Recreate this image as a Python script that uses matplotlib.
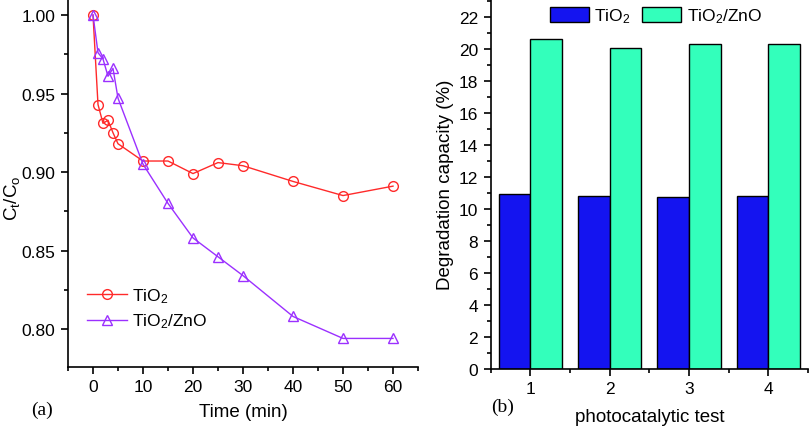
import matplotlib
matplotlib.use("Agg")
import matplotlib.pyplot as plt
from matplotlib.ticker import MultipleLocator, FormatStrFormatter
import numpy as np

plt.rcParams['font.family'] = ['Liberation Sans', 'DejaVu Sans']
plt.rcParams['mathtext.fontset'] = 'custom'
plt.rcParams['mathtext.rm'] = 'Liberation Sans'
plt.rcParams['mathtext.it'] = 'Liberation Sans'

# panel (a): photocatalytic decay
time_min = [0, 1, 2, 3, 4, 5, 10, 15, 20, 25, 30, 40, 50, 60]
ct_tio2 = [1.000, 0.943, 0.931, 0.933, 0.925, 0.918, 0.907, 0.907,
           0.899, 0.906, 0.904, 0.894, 0.885, 0.891]
ct_tio2_zno = [1.000, 0.976, 0.972, 0.961, 0.966, 0.947, 0.905, 0.880,
               0.858, 0.846, 0.834, 0.808, 0.794, 0.794]

# panel (b): degradation capacity per test
tests = [1, 2, 3, 4]
cap_tio2 = [10.92, 10.81, 10.71, 10.81]
cap_tio2_zno = [20.62, 20.02, 20.32, 20.32]

RED = "#FF2A2A"
PURPLE = "#9B30FF"
BLUE = "#1414F0"
AQUA = "#33FFBB"

fig = plt.figure(figsize=(8.1, 4.27), dpi=100)

# ---- (a) ----
ax1 = fig.add_axes([68 / 810, 59 / 427, 350 / 810, 368 / 427])
ax1.plot(time_min, ct_tio2, color=RED, lw=1, marker='o', ms=7,
         mfc='none', mec=RED, mew=1, label=r'$\mathregular{TiO_2}$')
ax1.plot(time_min, ct_tio2_zno, color=PURPLE, lw=1, marker='^', ms=7.5,
         mfc='none', mec=PURPLE, mew=1, label=r'$\mathregular{TiO_2}$/ZnO')
ax1.set_xlim(-5, 65)
ax1.set_ylim(0.7758, 1.0102)
ax1.xaxis.set_major_locator(MultipleLocator(10))
ax1.xaxis.set_minor_locator(MultipleLocator(5))
ax1.yaxis.set_major_locator(MultipleLocator(0.05))
ax1.yaxis.set_minor_locator(MultipleLocator(0.025))
ax1.yaxis.set_major_formatter(FormatStrFormatter('%.2f'))
ax1.set_xlabel('Time (min)', fontsize=13.5, labelpad=6)
ax1.set_ylabel(r'$\mathregular{C_t/C_o}$', fontsize=13.5)
ax1.yaxis.set_label_coords(-0.132, 0.46)
ax1.legend(loc='center left', bbox_to_anchor=(0.055, 0.16), frameon=False,
           fontsize=12.5, handlelength=2.3, handletextpad=0.3,
           labelspacing=0.4, borderpad=0, borderaxespad=0)

# ---- (b) ----
ax2 = fig.add_axes([490.7 / 810, 57 / 427, 317.3 / 810, 370 / 427])
x = np.array(tests)
w = 0.4
ax2.bar(x - w / 2, cap_tio2, width=w, color=BLUE, edgecolor='black',
        linewidth=1, label=r'$\mathregular{TiO_2}$')
ax2.bar(x + w / 2, cap_tio2_zno, width=w, color=AQUA, edgecolor='black',
        linewidth=1, label=r'$\mathregular{TiO_2}$/ZnO')
ax2.set_xlim(0.5, 4.5)
ax2.set_ylim(0, 23.1)
ax2.set_xticks(tests)
ax2.xaxis.set_minor_locator(MultipleLocator(0.5))
ax2.yaxis.set_major_locator(MultipleLocator(2))
ax2.yaxis.set_minor_locator(MultipleLocator(1))
ax2.set_xlabel('photocatalytic test', fontsize=13.5, labelpad=8)
ax2.set_ylabel('Degradation capacity (%)', fontsize=13.5)
ax2.yaxis.set_label_coords(-0.116, 0.5)
ax2.legend(loc='center', bbox_to_anchor=(0.52, 0.955), ncol=2, frameon=False,
           fontsize=12.5, handlelength=2.25, handleheight=0.9,
           handletextpad=0.3, columnspacing=0.7, borderpad=0,
           borderaxespad=0)

for ax in (ax1, ax2):
    ax.spines['top'].set_visible(False)
    ax.spines['right'].set_visible(False)
    ax.spines['left'].set_linewidth(1.2)
    ax.spines['bottom'].set_linewidth(1.2)
    ax.tick_params(which='major', direction='out', length=5, width=1.2,
                   labelsize=12.5, pad=4)
    ax.tick_params(which='minor', direction='out', length=3, width=1.2)

fig.text(42 / 810, 1 - 410 / 427, '(a)', fontsize=14, family='Liberation Serif',
         ha='center', va='center')
fig.text(503 / 810, 1 - 407 / 427, '(b)', fontsize=14, family='Liberation Serif',
         ha='center', va='center')

fig.savefig('out.png', dpi=100)
